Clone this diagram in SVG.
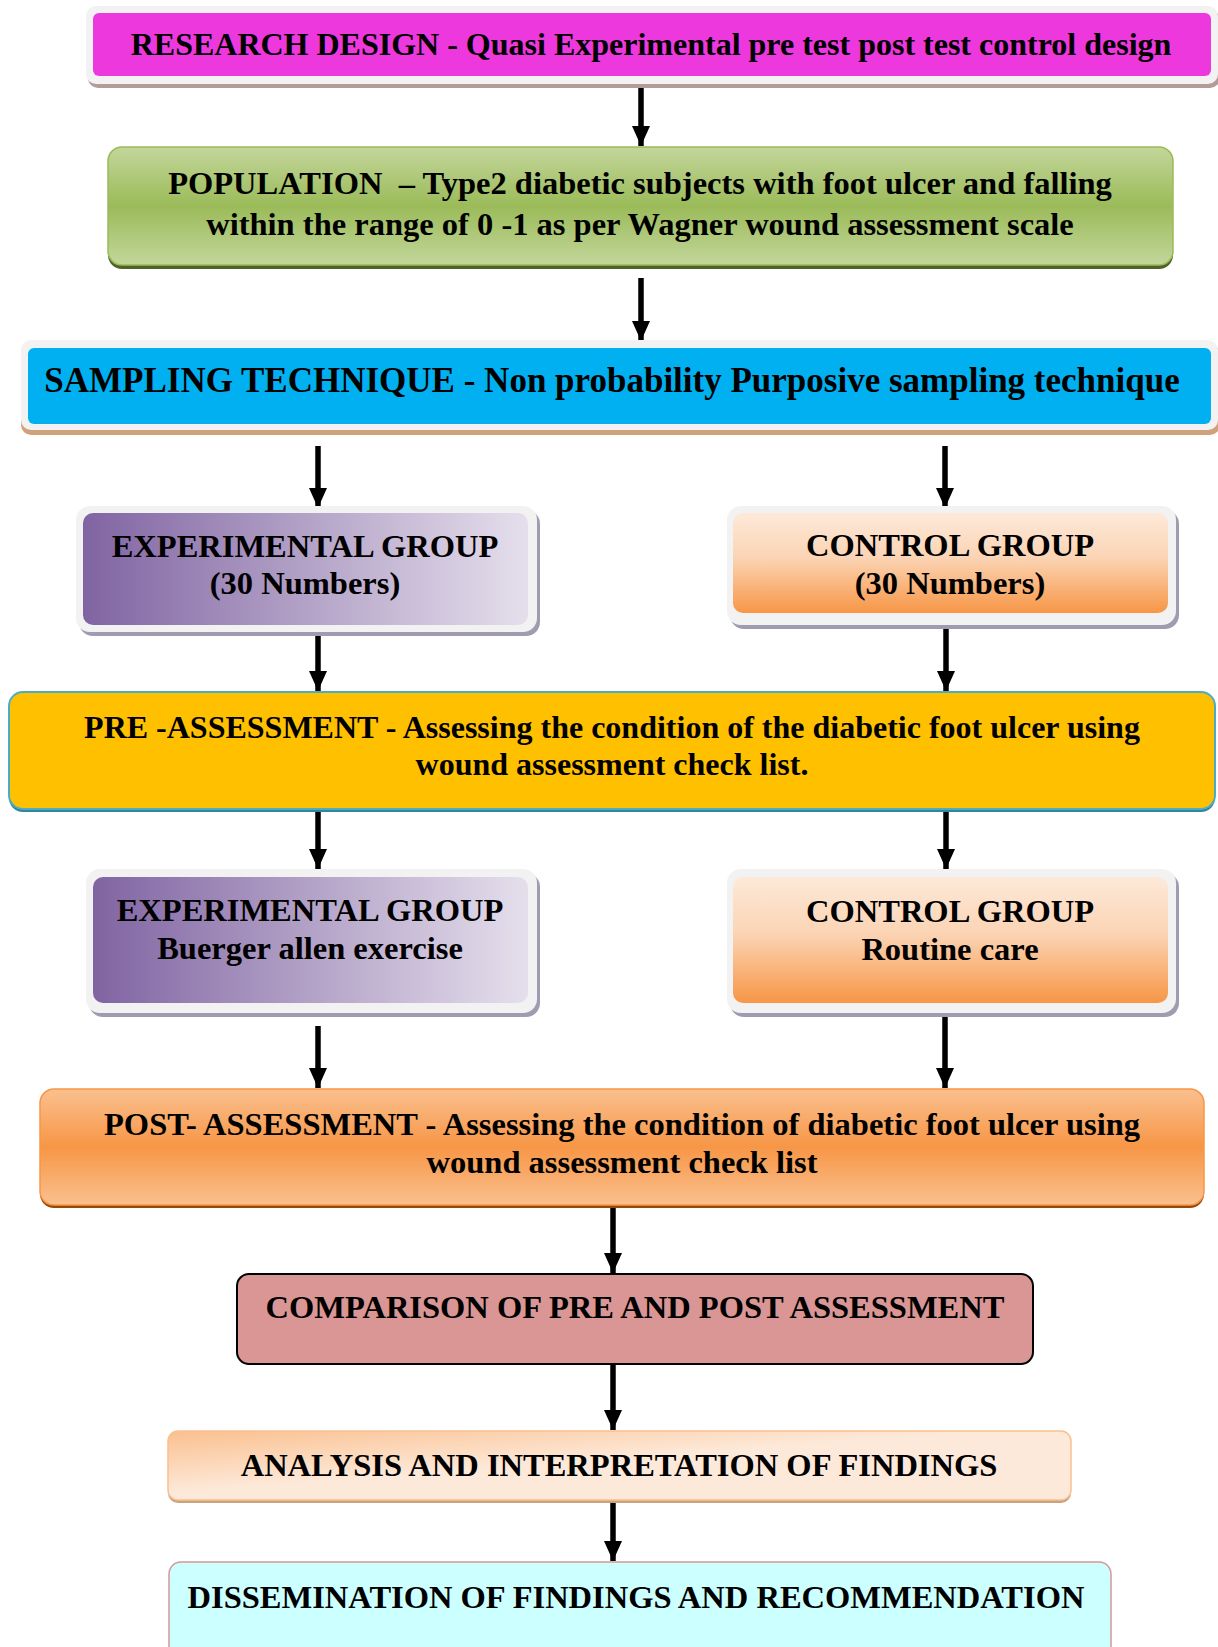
<svg xmlns="http://www.w3.org/2000/svg" width="1218" height="1647" viewBox="0 0 1218 1647">
<defs>
<style>
text{font-family:"Liberation Serif","Times New Roman",serif;font-weight:bold;fill:#000;text-anchor:middle;white-space:pre}
.f30{font-size:32.5px}
.f32{font-size:32px}
.f33{font-size:35px}
.frame{fill:#f2f2f2}
.arrow{stroke:#000;stroke-width:5.5;fill:none;marker-end:url(#ah)}
</style>
<marker id="ah" viewBox="0 0 20 18" refX="20" refY="9" markerWidth="20" markerHeight="18" markerUnits="userSpaceOnUse" orient="auto">
<path d="M0,0 L20,9 L0,18 z" fill="#000"/>
</marker>
<linearGradient id="gGreen" x1="0" y1="0" x2="0" y2="1">
<stop offset="0" stop-color="#c3d69b"/><stop offset="0.5" stop-color="#9bbb59"/><stop offset="1" stop-color="#c3d69b"/>
</linearGradient>
<linearGradient id="gPurple" x1="0" y1="0" x2="1" y2="0">
<stop offset="0" stop-color="#8064a2"/><stop offset="0.5" stop-color="#b3a2c7"/><stop offset="1" stop-color="#e5dfec"/>
</linearGradient>
<linearGradient id="gPeach" x1="0" y1="0" x2="0" y2="1">
<stop offset="0" stop-color="#fde9d9"/><stop offset="0.45" stop-color="#fbd4b4"/><stop offset="1" stop-color="#f79646"/>
</linearGradient>
<linearGradient id="gOrange" x1="0" y1="0" x2="0" y2="1">
<stop offset="0" stop-color="#fac08f"/><stop offset="0.5" stop-color="#f79646"/><stop offset="1" stop-color="#fac08f"/>
</linearGradient>
<linearGradient id="gAnalysis" x1="0" y1="0" x2="1" y2="1">
<stop offset="0" stop-color="#fac08f"/><stop offset="0.45" stop-color="#fde9d9"/><stop offset="1" stop-color="#fde9d9"/>
</linearGradient>
</defs>
<rect width="1218" height="1647" fill="#fff"/>

<g id="connectors">
<line class="arrow" x1="641" y1="86" x2="641" y2="146"/>
<line class="arrow" x1="641" y1="278" x2="641" y2="341"/>
<line class="arrow" x1="318" y1="446" x2="318" y2="508"/>
<line class="arrow" x1="945" y1="446" x2="945" y2="508"/>
<line class="arrow" x1="318" y1="628" x2="318" y2="691"/>
<line class="arrow" x1="946" y1="628" x2="946" y2="691"/>
<line class="arrow" x1="318" y1="811" x2="318" y2="869"/>
<line class="arrow" x1="946" y1="811" x2="946" y2="869"/>
<line class="arrow" x1="318" y1="1026" x2="318" y2="1088"/>
<line class="arrow" x1="945" y1="1013" x2="945" y2="1088"/>
<line class="arrow" x1="613" y1="1208" x2="613" y2="1273"/>
<line class="arrow" x1="613" y1="1365" x2="613" y2="1430"/>
<line class="arrow" x1="613" y1="1500" x2="613" y2="1561"/>
</g>

<g id="research-design">
<rect x="88" y="10" width="1132" height="78" rx="10" fill="#b59a9a"/>
<rect class="frame" x="86" y="6" width="1132" height="78" rx="10"/>
<rect x="93" y="13" width="1118" height="63" rx="6" fill="#ec38dc"/>
<text class="f32" x="651" y="55">RESEARCH DESIGN - Quasi Experimental pre test post test control design</text>
</g>

<g id="population">
<rect x="108" y="151" width="1065" height="118" rx="14" fill="#4f6228"/>
<rect x="108" y="147" width="1065" height="118" rx="14" fill="url(#gGreen)" stroke="#9bbb59" stroke-width="1.5"/>
<text class="f30" x="640" y="194">POPULATION  – Type2 diabetic subjects with foot ulcer and falling</text>
<text class="f30" x="640" y="235">within the range of 0 -1 as per Wagner wound assessment scale</text>
</g>

<g id="sampling">
<rect x="21" y="345" width="1199" height="90" rx="10" fill="#d0a27c"/>
<rect class="frame" x="21" y="340" width="1197" height="90" rx="10"/>
<rect x="28" y="348" width="1183" height="76" rx="6" fill="#00b0f0"/>
<text class="f33" x="612" y="392">SAMPLING TECHNIQUE - Non probability Purposive sampling technique</text>
</g>

<g id="exp-group-1">
<rect x="79" y="510" width="461" height="126" rx="14" fill="#a09bb0"/>
<rect class="frame" x="76" y="506" width="461" height="126" rx="14"/>
<rect x="83" y="513" width="445" height="112" rx="10" fill="url(#gPurple)"/>
<text class="f30" x="305" y="557">EXPERIMENTAL GROUP</text>
<text class="f30" x="305" y="594">(30 Numbers)</text>
</g>

<g id="control-group-1">
<rect x="730" y="510" width="449" height="119" rx="14" fill="#a09bb0"/>
<rect class="frame" x="727" y="506" width="449" height="119" rx="14"/>
<rect x="733" y="513" width="435" height="100" rx="10" fill="url(#gPeach)"/>
<text class="f30" x="950" y="556">CONTROL GROUP</text>
<text class="f30" x="950" y="594">(30 Numbers)</text>
</g>

<g id="pre-assessment">
<rect x="9" y="695" width="1206" height="117" rx="14" fill="#31859c"/>
<rect x="9" y="692" width="1206" height="117" rx="14" fill="#ffc000" stroke="#4bacc6" stroke-width="2"/>
<text class="f32" x="612" y="738">PRE -ASSESSMENT - Assessing the condition of the diabetic foot ulcer using</text>
<text class="f32" x="612" y="775">wound assessment check list.</text>
</g>

<g id="exp-group-2">
<rect x="89" y="873" width="451" height="144" rx="14" fill="#a09bb0"/>
<rect class="frame" x="86" y="869" width="451" height="144" rx="14"/>
<rect x="93" y="877" width="435" height="126" rx="10" fill="url(#gPurple)"/>
<text class="f30" x="310" y="921">EXPERIMENTAL GROUP</text>
<text class="f30" x="310" y="959">Buerger allen exercise</text>
</g>

<g id="control-group-2">
<rect x="730" y="873" width="449" height="144" rx="14" fill="#a09bb0"/>
<rect class="frame" x="727" y="869" width="449" height="144" rx="14"/>
<rect x="733" y="877" width="435" height="126" rx="10" fill="url(#gPeach)"/>
<text class="f30" x="950" y="922">CONTROL GROUP</text>
<text class="f30" x="950" y="960">Routine care</text>
</g>

<g id="post-assessment">
<rect x="40" y="1092" width="1164" height="116" rx="14" fill="#984807"/>
<rect x="40" y="1089" width="1164" height="116" rx="14" fill="url(#gOrange)" stroke="#f79646" stroke-width="1.5"/>
<text class="f30" x="622" y="1135">POST- ASSESSMENT - Assessing the condition of diabetic foot ulcer using</text>
<text class="f30" x="622" y="1173">wound assessment check list</text>
</g>

<g id="comparison">
<rect x="237" y="1274" width="796" height="90" rx="12" fill="#d99694" stroke="#000" stroke-width="2"/>
<text class="f30" x="635" y="1318">COMPARISON OF PRE AND POST ASSESSMENT</text>
</g>

<g id="analysis">
<rect x="168" y="1434" width="903" height="69" rx="10" fill="#c9a27e"/>
<rect x="168" y="1431" width="903" height="69" rx="10" fill="url(#gAnalysis)" stroke="#fac08f" stroke-width="1.5"/>
<text class="f30" x="619" y="1476">ANALYSIS AND INTERPRETATION OF FINDINGS</text>
</g>

<g id="dissemination">
<rect x="169" y="1562" width="942" height="100" rx="12" fill="#ccffff" stroke="#d99694" stroke-width="1.5"/>
<text class="f30" x="636" y="1608">DISSEMINATION OF FINDINGS AND RECOMMENDATION</text>
</g>
</svg>
